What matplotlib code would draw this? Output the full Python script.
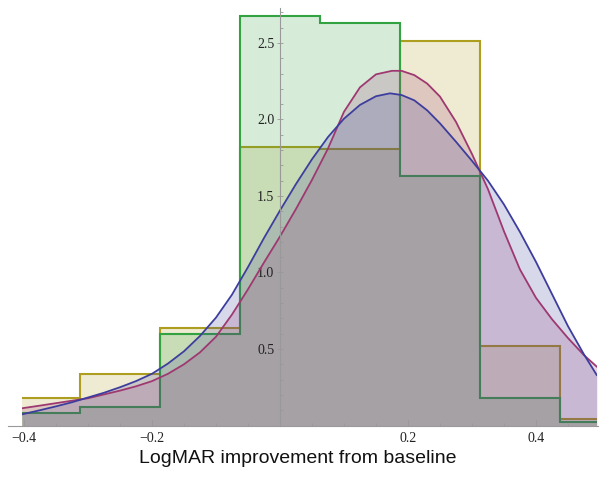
import matplotlib.pyplot as plt
from matplotlib.patches import Rectangle
from matplotlib.ticker import MultipleLocator

# histogram bins (density), shared by both groups
bin_edges = [-0.4375, -0.3125, -0.1875, -0.0625, 0.0625, 0.1875, 0.3125, 0.4375, 0.5625]
hist_gold = [0.18, 0.335, 0.635, 1.822, 1.805, 2.515, 0.52, 0.04]
hist_green = [0.08, 0.123, 0.596, 2.676, 2.63, 1.633, 0.18, 0.02]

# smooth density curves
blue_x = [-0.403, -0.375, -0.35, -0.325, -0.30, -0.275, -0.25, -0.225, -0.20, -0.175,
          -0.15, -0.125, -0.10, -0.075, -0.05, -0.025, 0.0, 0.025, 0.05, 0.075,
          0.10, 0.125, 0.15, 0.172, 0.19, 0.21, 0.23, 0.25, 0.275, 0.30,
          0.325, 0.35, 0.375, 0.40, 0.425, 0.45, 0.475, 0.495]
blue_y = [0.073, 0.100, 0.125, 0.152, 0.183, 0.214, 0.250, 0.290, 0.338, 0.405,
          0.485, 0.585, 0.705, 0.855, 1.035, 1.225, 1.405, 1.578, 1.740, 1.885,
          2.005, 2.095, 2.152, 2.171, 2.160, 2.125, 2.060, 1.975, 1.855, 1.730,
          1.600, 1.445, 1.265, 1.070, 0.860, 0.650, 0.465, 0.330]

magenta_x = [-0.404, -0.375, -0.35, -0.325, -0.30, -0.275, -0.25, -0.225, -0.20, -0.175,
             -0.15, -0.125, -0.10, -0.075, -0.05, -0.025, 0.0, 0.025, 0.05, 0.075,
             0.10, 0.125, 0.15, 0.175, 0.19, 0.21, 0.23, 0.25, 0.275, 0.30,
             0.325, 0.35, 0.375, 0.40, 0.425, 0.45, 0.475, 0.495]
magenta_y = [0.112, 0.130, 0.146, 0.162, 0.178, 0.203, 0.228, 0.256, 0.290, 0.338,
             0.400, 0.478, 0.580, 0.725, 0.890, 1.065, 1.235, 1.415, 1.605, 1.810,
             2.050, 2.210, 2.295, 2.318, 2.318, 2.290, 2.235, 2.150, 1.985, 1.775,
             1.545, 1.270, 1.020, 0.835, 0.695, 0.572, 0.460, 0.385]

x_ticks = [-0.4, -0.2, 0.2, 0.4]
y_ticks = [0.5, 1.0, 1.5, 2.0, 2.5]

# Mathematica-like default colours
BLUE = (0.24, 0.24, 0.62)
MAGENTA = (0.62, 0.22, 0.44)
GOLD = (0.68, 0.62, 0.12)
GREEN = (0.2, 0.64, 0.26)


def main():
    fig = plt.figure(figsize=(6.04, 4.79), dpi=100)
    ax = fig.add_axes([8 / 604, 53.5 / 479, 590 / 604, 417.7 / 479])
    ax.set_xlim(-0.425, 0.497)
    ax.set_ylim(0, 2.73)

    # plotted region is narrower than the axis line
    clip = Rectangle((-0.403, 0), 0.898, 3, transform=ax.transData)

    artists = []
    for vals, col in [(hist_gold, GOLD), (hist_green, GREEN)]:
        artists.append(ax.stairs(vals, bin_edges, fill=True, color=col, alpha=0.2, lw=0))
        artists.append(ax.stairs(vals, bin_edges, fill=False, color=col, lw=1.5,
                                 baseline=None))

    for xs, ys, col in [(magenta_x, magenta_y, MAGENTA), (blue_x, blue_y, BLUE)]:
        artists.append(ax.fill_between(xs, ys, 0, color=col, alpha=0.2, lw=0))
        artists += ax.plot(xs, ys, color=col, lw=1.3, solid_joinstyle='round')

    for a in artists:
        a.set_clip_path(clip)

    # axes through the origin
    for s in ['top', 'right']:
        ax.spines[s].set_visible(False)
    ax.spines['left'].set_position(('data', 0))
    ax.spines['bottom'].set_position(('data', 0))
    for s in ['left', 'bottom']:
        ax.spines[s].set_color('#999999')
        ax.spines[s].set_linewidth(0.8)
        ax.spines[s].set_zorder(5)

    ax.set_xticks(x_ticks)
    ax.set_xticklabels(['\u22120.4', '\u22120.2', '0.2', '0.4'])
    ax.set_yticks(y_ticks)
    ax.set_yticklabels(['0.5', '1.0', '1.5', '2.0', '2.5'])
    ax.xaxis.set_minor_locator(MultipleLocator(0.05))
    ax.yaxis.set_minor_locator(MultipleLocator(0.1))
    ax.tick_params(which='both', direction='in', color='#999999', width=0.6,
                   labelsize=10, zorder=6)
    ax.tick_params(which='major', length=4)
    ax.tick_params(which='minor', length=2)
    ax.tick_params(axis='x', pad=5)
    ax.tick_params(axis='y', direction='inout', pad=2)
    for lbl in ax.get_xticklabels() + ax.get_yticklabels():
        lbl.set_fontfamily('Liberation Serif')
        lbl.set_color('#222222')

    fig.text(298 / 604, 1 - 458.5 / 479, 'LogMAR improvement from baseline',
             ha='center', va='center', fontsize=14, family='Liberation Sans',
             color='#111111')

    fig.savefig('out.png', dpi=100)


if __name__ == "__main__":
    main()
